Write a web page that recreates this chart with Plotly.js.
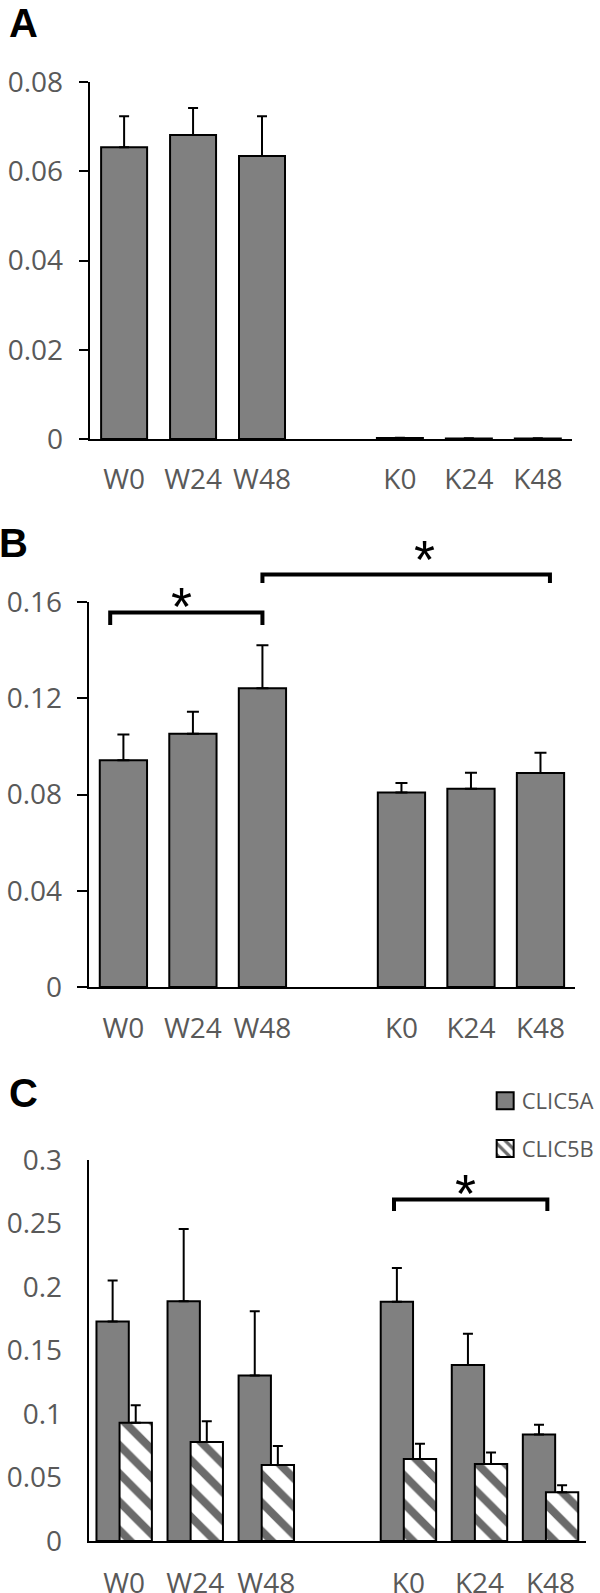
<!DOCTYPE html>
<html>
<head>
<meta charset="utf-8">
<script src="https://cdn.plot.ly/plotly-3.0.1.min.js"></script>
<style>html,body{margin:0;padding:0;background:#fff;}#chart{width:600px;height:1593px;}</style>
</head>
<body>
<div id="chart"></div>
<script>
// ---- data ----
var categories = ['W0', 'W24', 'W48', ' ', 'K0', 'K24', 'K48'];
var groups = ['W0', 'W24', 'W48', 'K0', 'K24', 'K48'];

// Panel A
var aValues = [0.0654, 0.0681, 0.0634, 0.0002, 0.0001, 0.0001];
var aErrors = [0.0069, 0.0061, 0.0089, 0.0001, 0.00005, 0.00005];
var aTicks = [0, 0.02, 0.04, 0.06, 0.08];
var aTickText = ['0', '0.02', '0.04', '0.06', '0.08'];

// Panel B
var bValues = [0.0942, 0.1052, 0.1242, 0.0808, 0.0824, 0.0889];
var bErrors = [0.0107, 0.0092, 0.0178, 0.0040, 0.0066, 0.0085];
var bTicks = [0, 0.04, 0.08, 0.12, 0.16];
var bTickText = ['0', '0.04', '0.08', '0.12', '0.16'];

// Panel C
var cSeriesNames = ['CLIC5A', 'CLIC5B'];
var c5aValues = [0.1728, 0.1887, 0.1304, 0.1884, 0.1386, 0.0839];
var c5aErrors = [0.0323, 0.0569, 0.0506, 0.0265, 0.0246, 0.0077];
var c5bValues = [0.0932, 0.0779, 0.0599, 0.0645, 0.0607, 0.0383];
var c5bErrors = [0.0137, 0.0164, 0.0150, 0.0121, 0.0090, 0.0055];
var cTicks = [0, 0.05, 0.1, 0.15, 0.2, 0.25, 0.3];
var cTickText = ['0', '0.05', '0.1', '0.15', '0.2', '0.25', '0.3'];

// ---- styling ----
var H = 1593, W = 600;
function py(p) { return 1 - p / H; }
function px(p) { return p / W; }
var tickGray = '#595959';
var barGray = '#808080';
var FONT = 'Open Sans, sans-serif';

function zeros(n) { var a = []; for (var i = 0; i < n; i++) a.push(0); return a; }

function solidBar(vals, errs, xa, ya, width, cap) {
  return {
    type: 'bar', x: groups, y: vals, xaxis: xa, yaxis: ya,
    width: width, showlegend: false,
    marker: { color: barGray, line: { color: '#000', width: 2 } },
    error_y: { type: 'data', symmetric: false, array: errs, arrayminus: zeros(errs.length),
               color: '#000', thickness: 2, width: cap },
    hoverinfo: 'x+y'
  };
}

var traces = [
  solidBar(aValues, aErrors, 'x', 'y', 0.667, 5),
  solidBar(bValues, bErrors, 'x2', 'y2', 0.68, 6),
  {
    type: 'bar', name: cSeriesNames[0], x: groups, y: c5aValues, xaxis: 'x3', yaxis: 'y3',
    width: 0.455, offset: -0.39, legendgroup: 'a',
    marker: { color: barGray, line: { color: '#000', width: 2 } },
    error_y: { type: 'data', symmetric: false, array: c5aErrors, arrayminus: zeros(6),
               color: '#000', thickness: 2, width: 5 }
  },
  {
    type: 'bar', name: cSeriesNames[1], x: groups, y: c5bValues, xaxis: 'x3', yaxis: 'y3',
    width: 0.455, offset: -0.065, legendgroup: 'b',
    marker: { color: '#ffffff', line: { color: '#000', width: 2 },
              pattern: { shape: '\\', fgcolor: '#6b6b6b', bgcolor: '#ffffff', size: 20, solidity: 0.4 } },
    error_y: { type: 'data', symmetric: false, array: c5bErrors, arrayminus: zeros(6),
               color: '#000', thickness: 2, width: 5 }
  }
];

function xAxis(domain, anchor, gap) {
  return {
    domain: domain, anchor: anchor, type: 'category', categoryorder: 'array', categoryarray: categories,
    range: [-0.5, 6.5], showline: true, linecolor: '#000', linewidth: 2,
    ticks: 'outside', ticklen: gap, tickcolor: 'rgba(0,0,0,0)',
    showgrid: false, zeroline: false, fixedrange: true,
    tickfont: { family: FONT, size: 28, color: tickGray }
  };
}
function yAxis(domain, anchor, range, tv, tt, ticks, ticklen, standoff) {
  return {
    domain: domain, anchor: anchor, range: range, tickvals: tv, ticktext: tt,
    showline: true, linecolor: '#000', linewidth: 2,
    ticks: ticks, ticklen: ticklen, tickwidth: 2, tickcolor: '#000',
    showgrid: false, zeroline: false, fixedrange: true,
    tickfont: { family: FONT, size: 28, color: tickGray },
    ticklabelstandoff: standoff
  };
}

function bracket(xa, x0, x1, yTop, yBot) {
  return {
    type: 'path', xref: xa, yref: 'paper',
    path: 'M' + x0 + ',' + py(yBot) + ' L' + x0 + ',' + py(yTop) + ' L' + x1 + ',' + py(yTop) + ' L' + x1 + ',' + py(yBot),
    line: { color: '#000', width: 4 }
  };
}
function star(xa, x, yc) {
  return { xref: xa, yref: 'paper', x: x, y: py(yc), text: '*', showarrow: false,
           xanchor: 'center', yanchor: 'middle',
           font: { family: 'Liberation Sans, Arial, sans-serif', size: 54, color: '#000' } };
}
function letter(t, xc, yc) {
  return { xref: 'paper', yref: 'paper', x: px(xc), y: py(yc), text: '<b>' + t + '</b>',
           showarrow: false, xanchor: 'center', yanchor: 'middle',
           font: { family: 'Liberation Sans, Arial, sans-serif', size: 40, color: '#000' } };
}

var layout = {
  width: W, height: H,
  margin: { l: 0, r: 0, t: 0, b: 0 },
  paper_bgcolor: '#fff', plot_bgcolor: '#fff',
  barmode: 'overlay',
  showlegend: true,
  legend: {
    x: px(489), y: py(1080), xanchor: 'left', yanchor: 'top',
    font: { family: FONT, size: 22, color: tickGray },
    bgcolor: 'rgba(0,0,0,0)', tracegroupgap: 16, traceorder: 'grouped'
  },
  xaxis: xAxis([px(91), px(581)], 'y', 14),
  yaxis: yAxis([py(439), py(82)], 'x', [0, 0.08], aTicks, aTickText, 'outside', 9, 10),
  xaxis2: xAxis([px(90), px(584)], 'y2', 15),
  yaxis2: yAxis([py(987), py(602)], 'x2', [0, 0.16], bTicks, bTickText, 'outside', 10, 9),
  xaxis3: xAxis([px(90), px(595)], 'y3', 16),
  yaxis3: yAxis([py(1541), py(1160)], 'x3', [0, 0.3], cTicks, cTickText, '', 0, 19),
  shapes: [
    bracket('x2', -0.19, 2.0, 612.5, 625),
    bracket('x2', 2.0, 6.136, 574.5, 583),
    bracket('x3', 3.797, 5.955, 1199.6, 1211)
  ],
  annotations: [
    letter('A', 23.5, 22.5),
    letter('B', 14, 543),
    letter('C', 23.5, 1093),
    star('x2', 0.842, 606),
    star('x2', 4.328, 559),
    star('x3', 4.80, 1193)
  ]
};

Plotly.newPlot('chart', traces, layout, { staticPlot: true, displayModeBar: false }).then(function (gd) {
  // enlarge the legend swatches to match the reference's larger squares
  var paths = gd.querySelectorAll('.legend .legendpoints path');
  for (var i = 0; i < paths.length; i++) {
    if (paths[i].getAttribute('d') === 'M6,6H-6V-6H6Z') {
      paths[i].setAttribute('d', 'M12,8.5H-5V-8.5H12Z');
    }
  }
});
</script>
</body>
</html>
